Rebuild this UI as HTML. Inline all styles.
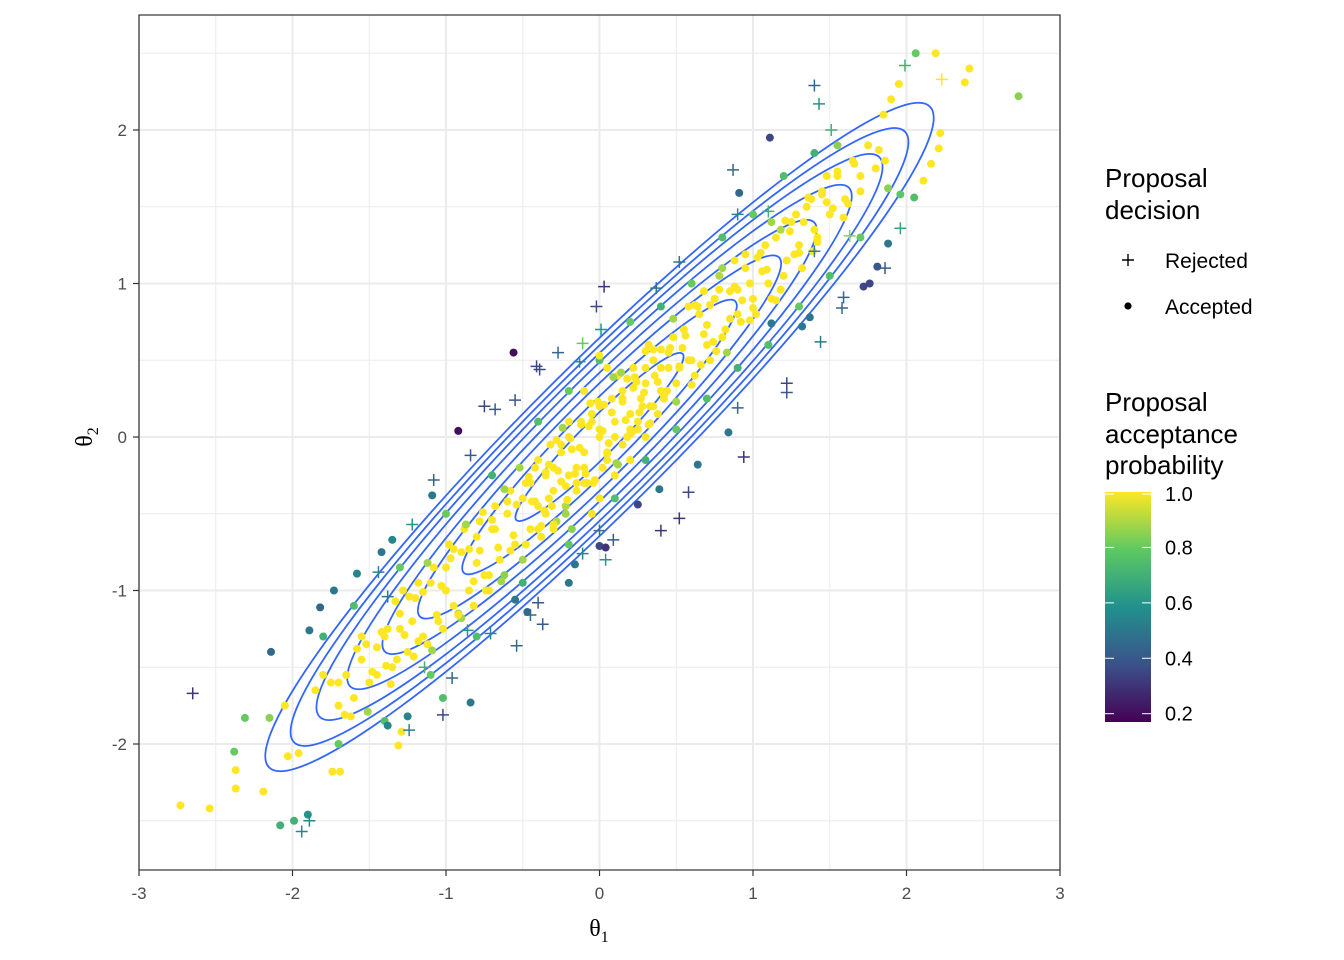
<!DOCTYPE html>
<html><head><meta charset="utf-8"><style>
body{margin:0;background:#fff;}
svg{display:block;font-family:"Liberation Sans",Arial,sans-serif;}
</style></head><body>
<svg id="chart" width="1344" height="960" viewBox="0 0 1344 960" xmlns="http://www.w3.org/2000/svg">
<rect width="1344" height="960" fill="#fff"/>
<g id="grid"></g>
<g id="contours"></g>
<g id="points"></g>
<rect x="139" y="15" width="921" height="855" fill="none" stroke="#333" stroke-width="1.2"/>
<g id="axes"></g>
<text x="599" y="936" text-anchor="middle" font-family="Liberation Serif,serif" font-size="24" fill="#000">θ<tspan font-size="16" dy="6">1</tspan></text>
<text transform="translate(92,437) rotate(-90)" text-anchor="middle" font-family="Liberation Serif,serif" font-size="24" fill="#000">θ<tspan font-size="16" dy="6">2</tspan></text>
<g>
<text x="1105" y="187" font-size="26" fill="#000"><tspan x="1105">Proposal</tspan><tspan x="1105" dy="32">decision</tspan></text>
<g><path d="M1122 260h12M1128 254v12" stroke="#000" stroke-width="1.4"/><text x="1165" y="268" font-size="21">Rejected</text></g>
<g><circle cx="1128" cy="306" r="3.6" fill="#000"/><text x="1165" y="314" font-size="21">Accepted</text></g>
</g>
<g>
<text x="1105" y="411" font-size="26" fill="#000"><tspan x="1105">Proposal</tspan><tspan x="1105" dy="32">acceptance</tspan><tspan x="1105" dy="31">probability</tspan></text>
<defs><linearGradient id="vg" x1="0" y1="1" x2="0" y2="0">
<stop offset="0" stop-color="#440154"/><stop offset="0.25" stop-color="#3b528b"/><stop offset="0.5" stop-color="#21918c"/><stop offset="0.75" stop-color="#5ec962"/><stop offset="1" stop-color="#fde725"/></linearGradient></defs>
<rect x="1105" y="492" width="46" height="230" fill="url(#vg)"/>
<g id="cbticks"></g>
</g>
</svg>
<script>
const xTicks=[-3,-2,-1,0,1,2,3];
const yTicks=[-2,-1,0,1,2];
const cbTicks=[0.2,0.4,0.6,0.8,1.0];
const contourLevels=[0.3,0.8,1.4,2.0,2.7,3.4,4.05,4.74];
const rho=0.955;
// outliers / rejected: x, y, prob, accepted(1/0)
const ptX=[2.73,2.41,2.38,2.19,2.06,2.22,2.21,2.16,2.11,2.05,1.96,1.88,1.86,1.82,1.88,1.76,1.72,1.81,1.11,0.91,-0.92,-0.56,-2.14,-2.31,-2.38,-2.37,-2.37,-2.19,-2.73,-2.54,-2.08,-1.99,-1.90,-2.03,-1.96,-2.15,-2.05,-1.74,-1.69,-1.31,-1.29,-1.38,-1.25,-1.02,-0.84,-1.89,-1.82,-1.73,-1.58,-1.42,-1.35,-1.09,0,0.84,0.64,0.39,0.25,0,0.04,-0.20,-0.16,-0.47,-0.55,1.32,1.37,1.12,
-2.65,-1.94,-1.89,-1.24,-1.02,-0.96,-1.14,-0.86,-0.71,-0.54,-0.37,-0.45,-0.40,-1.38,-1.44,-1.22,-1.08,-0.84,-0.75,-0.68,-0.55,-0.41,-0.39,-0.27,-0.11,0.03,-0.02,0.01,-0.13,0.37,0.52,0.90,0.87,1.10,1.40,1.58,1.59,1.44,1.22,0.94,0.90,0.58,0.52,0.40,0.09,0,0.04,-0.11,1.40,1.43,1.51,1.99,2.23,1.96,1.86,1.22,1.63];
const ptY=[2.22,2.40,2.31,2.50,2.50,1.98,1.88,1.78,1.67,1.56,1.58,1.62,1.80,1.87,1.26,1.0,0.98,1.11,1.95,1.59,0.04,0.55,-1.40,-1.83,-2.05,-2.17,-2.29,-2.31,-2.40,-2.42,-2.53,-2.50,-2.46,-2.08,-2.06,-1.83,-1.75,-2.18,-2.18,-2.01,-1.92,-1.88,-1.82,-1.70,-1.73,-1.26,-1.11,-1.00,-0.89,-0.75,-0.67,-0.38,0.53,0.03,-0.18,-0.34,-0.44,-0.71,-0.72,-0.95,-0.83,-1.14,-1.06,0.72,0.78,0.74,
-1.67,-2.57,-2.50,-1.91,-1.81,-1.57,-1.50,-1.26,-1.28,-1.36,-1.22,-1.16,-1.08,-1.04,-0.88,-0.57,-0.28,-0.12,0.20,0.18,0.24,0.46,0.44,0.55,0.61,0.98,0.85,0.70,0.49,0.97,1.14,1.45,1.74,1.47,1.21,0.84,0.91,0.62,0.29,-0.13,0.19,-0.36,-0.53,-0.61,-0.67,-0.61,-0.80,-0.76,2.29,2.17,2.0,2.42,2.33,1.36,1.10,0.35,1.31];
const ptP=[0.85,1,1,1,0.8,1,1,1,1,0.75,0.78,0.85,1,1,0.5,0.35,0.35,0.4,0.35,0.45,0.2,0.2,0.45,0.8,0.8,1,1,1,1,1,0.7,0.7,0.6,1,1,0.85,1,1,1,1,1,0.55,0.55,0.75,0.5,0.5,0.45,0.5,0.55,0.5,0.55,0.5,1,0.5,0.5,0.5,0.35,0.35,0.3,0.5,0.5,0.45,0.5,0.5,0.5,0.5,
0.3,0.55,0.55,0.55,0.35,0.45,0.7,0.6,0.55,0.45,0.4,0.45,0.4,0.5,0.55,0.6,0.45,0.4,0.35,0.4,0.4,0.35,0.35,0.45,0.8,0.3,0.35,0.6,0.6,0.5,0.5,0.55,0.45,0.7,0.55,0.45,0.45,0.5,0.4,0.3,0.45,0.35,0.3,0.3,0.4,0.5,0.6,0.55,0.45,0.6,0.7,0.7,1,0.65,0.4,0.35,0.85];
const ptAcc=[1,1,1,1,1,1,1,1,1,1,1,1,1,1,1,1,1,1,1,1,1,1,1,1,1,1,1,1,1,1,1,1,1,1,1,1,1,1,1,1,1,1,1,1,1,1,1,1,1,1,1,1,1,1,1,1,1,1,1,1,1,1,1,1,1,1,
0,0,0,0,0,0,0,0,0,0,0,0,0,0,0,0,0,0,0,0,0,0,0,0,0,0,0,0,0,0,0,0,0,0,0,0,0,0,0,0,0,0,0,0,0,0,0,0,0,0,0,0,0,0,0,0,0];
// bulk accepted points (edge greens first, then dense yellow core)
const bulkX=[-1.6,-1.3,-1.0,-0.7,-0.4,-0.2,0,0.2,0.4,0.6,0.8,1.0,1.2,1.4,1.55,-1.8,
-1.4,-1.1,-0.8,-0.5,-0.2,0.1,0.3,0.5,0.7,0.9,1.1,1.3,1.5,1.7,-1.7,
-0.1,0,0.1,-0.2,0.2,-0.3,0.3,-0.05,0.05,0.15,-0.15,0.25,-0.25,0.4,-0.4,0.35,-0.35,0.45,-0.45,0.5,-0.5,0.55,-0.55,0.6,-0.6,0.65,-0.65,0.7,-0.7,0.75,-0.75,0.8,-0.8,0.85,-0.85,0.9,-0.9,0.95,-0.95,1.0,-1.0,1.05,-1.05,1.1,-1.1,1.15,-1.15,1.2,-1.2,1.25,-1.25,1.3,-1.3,1.35,-1.35,1.4,-1.4,1.45,-1.5,1.5,-1.55,1.55,-1.6,1.6,-1.65,1.65,-1.7,1.7,-1.75,1.75,-1.8,1.8,-1.85,1.85,1.9,1.95,
0.02,-0.12,0.18,-0.22,0.28,-0.32,0.12,-0.08,0.38,-0.42,0.48,-0.18,0.22,0.08,-0.28,0.32,-0.38,0.42,-0.48,0.52,0.58,-0.58,0.62,-0.62,0.68,-0.68,0.72,-0.72,0.78,-0.78,0.82,-0.82,0.88,-0.88,0.92,-0.92,0.98,-0.98,1.02,-1.02,1.08,-1.08,1.12,-1.12,1.18,-1.18,1.22,-1.22,1.28,-1.28,1.32,-1.32,1.38,-1.38,1.42,-1.45,1.48,-1.52,0,0.1,-0.1,0.2,-0.2,0.3,-0.3,0.05,-0.05,0.15,
-1.7,-1.62,-1.55,-1.48,-1.42,-1.36,-1.3,-1.24,-1.18,-1.12,-1.06,-1.0,-0.95,-0.9,-0.85,-0.8,-0.76,-0.72,-0.68,-0.64,-0.6,-0.56,-0.52,-0.48,-0.44,-0.4,-0.36,-0.33,-0.3,-0.27,-0.24,-0.21,-0.18,-0.15,-0.12,-0.09,-0.06,-0.03,0,0.03,0.06,0.09,0.12,0.15,0.18,0.21,0.24,0.27,0.3,0.33,0.36,0.4,0.44,0.48,0.52,0.56,0.6,0.64,0.68,0.72,0.76,0.8,0.85,0.9,0.95,1.0,1.06,1.12,1.18,1.24,1.3,1.36,1.42,1.48,1.55,1.62,1.7,
-1.66,-1.58,-1.51,-1.45,-1.39,-1.33,-1.27,-1.21,-1.15,-1.09,-1.03,-0.97,-0.92,-0.87,-0.82,-0.78,-0.74,-0.7,-0.66,-0.62,-0.58,-0.54,-0.5,-0.46,-0.42,-0.38,-0.35,-0.31,-0.28,-0.25,-0.22,-0.19,-0.16,-0.13,-0.1,-0.07,-0.04,-0.01,0.02,0.05,0.08,0.11,0.14,0.17,0.2,0.23,0.26,0.29,0.32,0.35,0.38,0.42,0.46,0.5,0.54,0.58,0.62,0.66,0.7,0.74,0.78,0.83,0.88,0.93,0.98,1.03,1.09,1.15,1.21,1.27,1.33,1.39,1.45,1.52,1.59,1.66,
-0.45,-0.35,-0.25,-0.15,-0.05,0.05,0.15,0.25,0.35,0.45,-0.4,-0.3,-0.2,-0.1,0,0.1,0.2,0.3,0.4,-0.22,0.22,-0.33,0.33];
const bulkY=[-1.1,-0.85,-0.5,-0.25,0.1,0.3,0.5,0.75,0.85,1.0,1.3,1.45,1.7,1.85,1.9,-1.3,
-1.85,-1.55,-1.3,-0.95,-0.7,-0.4,-0.15,0.05,0.25,0.45,0.6,0.85,1.05,1.3,-2.0,
-0.1,0.05,0.1,-0.25,0.15,-0.2,0.35,0.15,-0.1,0.3,-0.35,0.05,-0.05,0.3,-0.45,0.5,-0.25,0.55,-0.6,0.35,-0.4,0.7,-0.7,0.5,-0.5,0.8,-0.8,0.6,-0.6,0.9,-0.9,0.65,-0.65,0.95,-1.0,0.8,-0.75,1.1,-1.1,0.9,-0.85,1.2,-1.2,1.0,-0.95,1.3,-1.3,1.05,-1.05,1.4,-1.4,1.2,-1.15,1.5,-1.5,1.35,-1.3,1.6,-1.6,1.45,-1.45,1.7,-1.7,1.55,-1.55,1.8,-1.75,1.6,-1.6,1.9,-1.55,1.75,-1.65,2.1,2.2,2.3,
-0.2,0.08,0.0,-0.45,0.2,-0.05,0.4,-0.3,0.15,-0.2,0.65,-0.6,0.45,0.25,-0.55,0.6,-0.65,0.25,-0.3,0.45,0.85,-0.35,0.4,-0.9,0.95,-0.45,0.5,-1.0,1.05,-0.55,0.7,-1.1,1.15,-0.6,0.75,-1.15,1.0,-0.7,0.8,-1.25,1.25,-0.85,0.9,-1.35,1.35,-0.95,1.15,-1.2,1.45,-1.0,1.1,-1.45,1.55,-1.25,1.3,-1.55,1.7,-1.35,-0.4,-0.25,0.3,-0.15,0.1,0.0,-0.6,0.45,-0.5,-0.05,
-1.6,-1.82,-1.3,-1.53,-1.27,-1.61,-1.25,-1.04,-1.33,-0.82,-1.16,-1.0,-0.73,-1.18,-0.73,-0.82,-0.49,-0.9,-0.6,-0.94,-0.42,-0.64,-0.2,-0.7,-0.42,-0.15,-0.48,-0.18,-0.57,-0.22,0.06,-0.41,-0.08,-0.2,0.1,-0.24,0.22,-0.28,0,0.21,-0.04,0.39,-0.18,0.23,0.38,0.03,0.36,0.25,0.56,0.09,0.4,0.57,0.3,0.77,0.46,0.66,0.34,0.85,0.67,0.86,0.56,1.1,0.77,0.96,1.19,0.84,1.08,1.4,0.96,1.34,1.25,1.56,1.27,1.53,1.73,1.52,1.7,
-1.81,-1.38,-1.79,-1.37,-1.49,-1.07,-1.29,-1.43,-1.01,-1.39,-0.97,-0.79,-1.16,-0.57,-0.94,-0.74,-1.0,-0.54,-0.72,-0.34,-0.74,-0.44,-0.8,-0.26,-0.42,-0.58,-0.23,-0.45,-0.02,-0.29,-0.5,-0.01,-0.24,-0.07,-0.3,0.07,-0.3,0.23,0.04,-0.11,0.16,-0.17,0.42,0.11,0.02,0.39,0.16,0.29,0.08,0.57,0.36,0.27,0.58,0.23,0.58,0.5,0.86,0.47,0.73,0.62,0.96,0.55,0.98,0.89,0.76,1.17,1.09,0.89,1.41,1.19,1.4,1.21,1.58,1.49,1.43,1.78,
-0.3,-0.5,-0.1,-0.3,0.1,-0.15,0.25,0.1,0.2,0.45,-0.6,-0.35,0.0,-0.2,0.2,0.0,0.05,0.45,0.45,-0.32,0.32,-0.4,0.2];
const bulkP=[0.75,0.8,0.8,0.7,0.75,0.8,0.75,0.8,0.7,0.8,0.75,0.8,0.75,0.7,0.85,0.7,
0.75,0.8,0.75,0.7,0.8,0.75,0.7,0.8,0.75,0.7,0.75,0.8,0.75,0.8,0.8,
1,1,1,1,1,1,1,1,1,1,1,1,1,1,1,1,1,1,1,1,1,1,1,1,1,1,1,1,1,1,1,1,1,1,1,1,1,1,1,1,1,1,1,1,1,1,1,1,1,1,1,1,1,1,1,1,1,1,1,1,1,1,1,1,1,1,1,1,1,1,1,1,1,1,1,1,
1,1,1,0.9,1,1,1,1,1,1,1,0.85,1,1,0.9,1,1,1,1,1,1,1,1,0.85,1,1,1,1,0.9,1,1,1,1,1,1,0.9,1,1,1,1,1,1,1,1,0.9,1,1,1,1,1,1,1,1,1,1,1,1,1,1,1,1,1,1,1,1,1,1,1,
1,1,1,1,1,1,1,1,1,0.88,1,1,1,0.88,1,1,1,1,1,0.88,1,1,0.88,1,1,1,1,1,1,1,0.88,1,1,1,1,1,1,1,1,1,1,0.88,0.88,1,1,1,1,1,1,1,1,1,1,0.88,1,1,1,1,1,1,1,0.88,1,1,1,1,1,0.88,1,1,1,1,1,1,1,1,1,
1,1,0.88,1,1,1,1,1,1,0.88,1,1,1,0.88,1,1,1,1,1,0.88,1,1,0.88,1,1,1,1,1,1,1,0.88,1,1,1,1,1,1,1,1,1,1,0.88,0.88,1,1,1,1,1,1,1,1,1,1,0.88,1,1,1,1,1,1,1,0.88,1,1,1,1,1,1,1,1,1,1,1,1,1,1,
1,1,1,1,1,1,1,1,1,1,1,1,1,1,1,1,1,1,1,1,1,1,1];

const X=v=>599.5+v*153.5, Y=v=>437-v*153.5;
const NS='http://www.w3.org/2000/svg';
function mk(tag,attrs,parent){const e=document.createElementNS(NS,tag);for(const k in attrs)e.setAttribute(k,attrs[k]);parent.appendChild(e);return e;}
const stops=[[68,1,84],[59,82,139],[33,145,140],[94,201,98],[253,231,37]];
function vir(p){let t=(p-0.17)/(1-0.17);t=Math.max(0,Math.min(1,t))*4;const i=Math.min(3,Math.floor(t)),f=t-i;const a=stops[i],b=stops[i+1];return `rgb(${a.map((c,k)=>Math.round(c+(b[k]-c)*f)).join(',')})`;}
const grid=document.getElementById('grid');
for(let v=-2.5;v<=2.5;v+=1){const l=mk('line',{x1:X(v),x2:X(v),y1:15,y2:870,stroke:'#ebebeb','stroke-width':1},grid);}
for(let v=-2.5;v<=2.5;v+=1){const l=mk('line',{y1:Y(v),y2:Y(v),x1:139,x2:1060,stroke:'#ebebeb','stroke-width':1},grid);}
xTicks.forEach(v=>{const l=mk('line',{x1:X(v),x2:X(v),y1:15,y2:870,stroke:'#ebebeb','stroke-width':2},grid);});
yTicks.forEach(v=>{const l=mk('line',{y1:Y(v),y2:Y(v),x1:139,x2:1060,stroke:'#ebebeb','stroke-width':2},grid);});
const axes=document.getElementById('axes');
xTicks.forEach(v=>{mk('line',{x1:X(v),x2:X(v),y1:870,y2:876,stroke:'#333','stroke-width':1.2},axes);const t=mk('text',{x:X(v),y:899,'text-anchor':'middle','font-size':17,fill:'#4d4d4d'},axes);t.textContent=v;});
yTicks.forEach(v=>{mk('line',{x1:133,x2:139,y1:Y(v),y2:Y(v),stroke:'#333','stroke-width':1.2},axes);const t=mk('text',{x:127,y:Y(v)+6,'text-anchor':'end','font-size':17,fill:'#4d4d4d'},axes);t.textContent=v;});
const cont=document.getElementById('contours');
contourLevels.forEach(c=>{const a=Math.sqrt(c*(1+rho))*153.5,b=Math.sqrt(c*(1-rho))*153.5;const e=mk('ellipse',{cx:X(0),cy:Y(0),rx:a,ry:b,transform:`rotate(-45 ${X(0)} ${Y(0)})`,fill:'none',stroke:'#3366ff','stroke-width':1.8},cont);});
const pts=document.getElementById('points');
bulkX.forEach((x,i)=>{const c=mk('circle',{cx:X(x),cy:Y(bulkY[i]),r:4,fill:vir(bulkP[i])},pts);});
ptX.forEach((x,i)=>{const px=X(x),py=Y(ptY[i]);if(ptAcc[i]){const c=mk('circle',{cx:px,cy:py,r:4,fill:vir(ptP[i])},pts);}else{const p=mk('path',{d:`M${px-6} ${py}h12M${px} ${py-6}v12`,stroke:vir(ptP[i]),'stroke-width':1.5},pts);}});
const cb=document.getElementById('cbticks');
cbTicks.forEach(v=>{const y=722-(v-0.17)/(1-0.17)*230;const yy=Math.max(494,y);mk('line',{x1:1105,x2:1114,y1:yy,y2:yy,stroke:'#fff','stroke-width':1},cb);mk('line',{x1:1142,x2:1151,y1:yy,y2:yy,stroke:'#fff','stroke-width':1},cb);const t=mk('text',{x:1165,y:yy+7,'font-size':20,fill:'#000'},cb);t.textContent=v.toFixed(1);});
</script>
</body></html>
